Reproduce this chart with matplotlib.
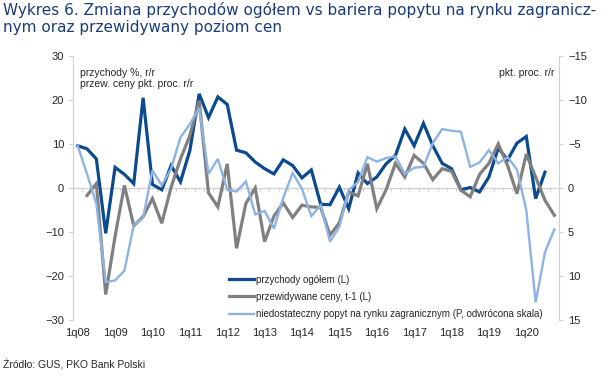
import numpy as np
import matplotlib
matplotlib.use("Agg")
import matplotlib.pyplot as plt

# dane kwartalne 1q08 - 4q20
kwartaly = [f"{q}q{r:02d}" for r in range(8, 21) for q in range(1, 5)]

przychody = [9.6, 8.9, 6.6, -10.3, 4.7, 3.1, 1.0, 20.5, 0.8, -0.4, 5.1, 1.4,
             8.5, 21.4, 16.0, 20.7, 19.0, 8.6, 8.0, 5.9, 4.4, 3.2, 6.4, 5.1,
             2.3, 4.1, -3.7, -3.8, 0.2, -4.7, 3.4, 1.0, 2.5, 5.5, 7.4, 13.4,
             9.6, 14.7, 9.6, 5.6, 4.4, -0.4, 0.1, -0.9, 2.5, 9.1, 6.4, 10.2,
             11.7, -2.4, 3.6, np.nan]

ceny = [np.nan, -1.7, 1.0, -24.2, -11.0, 0.6, -8.6, -6.5, -2.4, -8.0, 0.2, 6.6,
        11.9, 19.8, -1.1, -4.3, 5.5, -13.7, -3.5, 0.0, -12.2, -6.4, -3.4, -6.7,
        -3.9, -4.3, -4.4, -10.7, -7.9, -0.9, -1.8, 5.5, -4.7, -0.4, 5.6, 2.5,
        7.4, 5.6, 1.9, 4.4, 3.8, -0.5, -2.0, 3.1, 5.6, 10.0, 5.1, -1.3,
        7.7, 2.5, -2.8, -6.2]

popyt = [-4.8, -1.6, 1.8, 10.7, 10.5, 9.4, 4.2, 3.4, -2.0, -0.3, -2.2, -5.75,
         -7.25, -9.1, -1.6, -3.3, 0.2, 0.4, -0.75, 3.0, 2.6, 4.6, 1.1, -1.7,
         0.1, 3.2, 1.95, 6.1, 4.4, 0.26, -0.7, -3.5, -3.0, -3.4, -3.6, -1.6,
         -2.3, -2.4, -5.1, -6.7, -6.5, -6.4, -2.4, -2.9, -4.3, -2.8, -3.5, -2.1,
         2.5, 13.0, 7.3, 4.7]

granat = "#0b4a8f"
szary = "#808080"
jasny = "#8db3e2"
tekst = "#262626"
maly = "Liberation Sans"

fig = plt.figure(figsize=(6.09, 3.86), dpi=100)
ax = fig.add_axes([73 / 609, 1 - 320 / 386, 486 / 609, 264 / 386])
ax2 = ax.twinx()

x = np.arange(len(kwartaly))
l1, = ax.plot(x, przychody, color=granat, lw=2.3, solid_joinstyle="miter")
l2, = ax.plot(x, ceny, color=szary, lw=2.3, solid_joinstyle="miter")
l3, = ax2.plot(x, popyt, color=jasny, lw=1.7, solid_joinstyle="miter")

ax.set_xlim(-0.5, len(kwartaly) - 0.5)
ax.set_ylim(-30, 30)
ax2.set_ylim(15, -15)
ax.set_yticks(range(-30, 31, 10))
ax2.set_yticks(range(-15, 16, 5))

# os kategorii w zerze
ax.axhline(0, color="#d0d0d0", lw=0.9, zorder=1)
ax.vlines(np.arange(-0.5, len(kwartaly), 1), -0.75, 0, color="#d0d0d0", lw=0.8, zorder=1)

ax.set_xticks(x[::4])
ax.set_xticklabels(kwartaly[::4])

for a in (ax, ax2):
    for s in ("top", "bottom"):
        a.spines[s].set_visible(False)
    a.spines["left"].set_color("#d0d0d0")
    a.spines["right"].set_color("#d0d0d0")
    a.tick_params(axis="y", colors="#d0d0d0", labelcolor=tekst, labelsize=8, length=3)
    for t in a.get_yticklabels() + a.get_xticklabels():
        t.set_family(maly)
ax.tick_params(axis="x", length=0, labelsize=8, labelcolor=tekst, pad=6)
ax2.spines["left"].set_visible(False)
ax.spines["right"].set_visible(False)

ax.text(0.015, 0.955, "przychody %, r/r\nprzew. ceny pkt. proc. r/r", transform=ax.transAxes,
        fontsize=7.5, family=maly, color=tekst, va="top", ha="left", linespacing=1.2)
ax.text(0.99, 0.955, "pkt. proc. r/r", transform=ax.transAxes,
        fontsize=7.5, family=maly, color=tekst, va="top", ha="right")

ax.legend([l1, l2, l3],
          ["przychody ogółem (L)", "przewidywane ceny, t-1 (L)",
           "niedostateczny popyt na rynku zagranicznym (P, odwrócona skala)"],
          loc="lower left", bbox_to_anchor=(0.31, -0.015), frameon=False,
          prop={"family": maly, "size": 7}, handlelength=2.6, handletextpad=0.25,
          labelspacing=0.75, borderpad=0, labelcolor=tekst)

fig.text(0.005, 0.995, "Wykres 6. Zmiana przychodów ogółem vs bariera popytu na rynku zagranicz-\n"
         "nym oraz przewidywany poziom cen", fontsize=11, color="#1b3c78", va="top",
         ha="left", linespacing=1.15)
fig.text(0.005, 0.055, "Źródło: GUS, PKO Bank Polski", fontsize=7.5, family=maly,
         color=tekst, va="center")

fig.savefig("out.png", dpi=100)
